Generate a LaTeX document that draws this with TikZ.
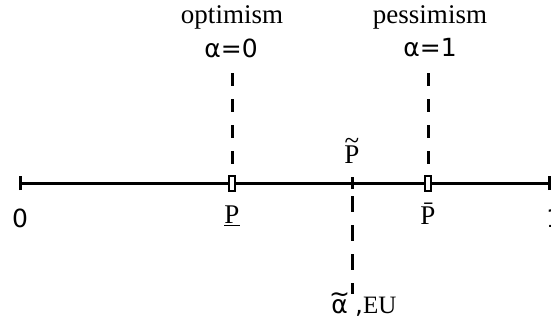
\documentclass[tikz,border=0pt]{standalone}
\usepackage{fontspec}
\setmainfont{Liberation Serif}
\newfontfamily\dsans{DejaVu Sans}
\usepackage{tikz}
\newcommand{\tildeon}[2]{\setbox0\hbox{#2}%
  \rlap{\hbox to\wd0{\hss\raisebox{#1}{\textasciitilde}\hss}}\box0}

\begin{document}
\begin{tikzpicture}[x=1pt, y=-1pt,
      every node/.style={inner sep=0pt, font=\fontsize{27}{32}\selectfont},
      sanslabel/.style={font=\fontsize{25}{30}\selectfont\dsans},
      axis/.style={line width=3pt},
      guide/.style={line width=3pt, dash pattern=on 13pt off 13pt},
      marker/.style={draw, fill=white, line width=2pt,
                     minimum width=6pt, minimum height=15pt}
    ]
      \useasboundingbox (0,0) rectangle (551,321);
      % top labels
      \node (opt) at (232,17) {optimism};
      \node (pes) at (430,17) {pessimism};
      \node[sanslabel] (a0) at (231,48) {α=0};
      \node[sanslabel] (a1) at (430,48) {α=1};
      % axis
      \coordinate (left)  at (20,183);
      \coordinate (right) at (549,183);
      \coordinate (ptick) at (352,183);
      \draw[axis] (left) -- (right);
      \draw[axis] ([yshift=-7pt]left) -- ([yshift=7pt]left);
      \draw[axis] ([yshift=-7pt]right) -- ([yshift=7pt]right);
      \draw[axis] ([yshift=-6pt]ptick) -- ([yshift=6pt]ptick);
      % guides
      \coordinate (g0) at (232,73);
      \coordinate (g1) at (428,73);
      \coordinate (g2) at (352,196);
      \coordinate (g3) at (352,294);
      \node[marker] (plow)  at (232,183) {};
      \node[marker] (phigh) at (428,183) {};
      \draw[guide] (g0) -- (plow.north);
      \draw[guide] (g1) -- (phigh.north);
      \draw[guide, dash pattern=on 16pt off 13pt] (g2) -- (g3);
      % bottom label
      \node[sanslabel, anchor=base east] (atil) at (348,313) {\tildeon{0.42em}{α}};
      \node[anchor=base west, font=\fontsize{25}{30}\selectfont] (eu) at (355,313)
           {{\dsans ,}EU};
      % axis labels
      \node[sanslabel] (zero) at (20,218) {0};
      \node[sanslabel] (one)  at (554,218) {1};
      \node (plab) at (232,216) {\underline{P}};
      \node (pbar) at (428,214) {\={P}};
      \node (ptil) at (352,151) {\tildeon{0.5em}{P}};
    \end{tikzpicture}
\end{document}
